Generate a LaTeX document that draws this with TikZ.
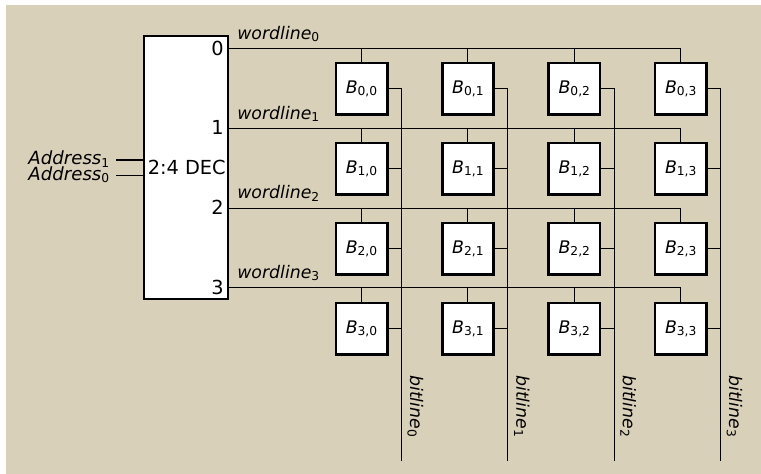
\documentclass[tikz,border=0pt]{standalone}
\usepackage{fontspec}
\setmainfont{DejaVu Sans}
\usetikzlibrary{calc}
\definecolor{bgc}{RGB}{217,208,186}
\newcommand\sbx[1]{\raisebox{-1.8pt}{\fontsize{9.2}{9.5}\selectfont #1}}
\begin{document}
\begin{tikzpicture}[x=0.75pt,y=-0.75pt,
  font=\fontsize{13}{15}\selectfont,
  wire/.style={line width=0.8pt, line cap=rect},
  cell/.style={draw, line width=2pt, fill=white, minimum width=38.5pt, minimum height=38.5pt, inner sep=0pt},
  decbox/.style={draw, line width=1.8pt, fill=white, minimum width=63pt, minimum height=197.25pt, inner sep=0pt},
  lbl/.style={inner sep=0pt},
  declbl/.style={inner sep=0pt, font=\fontsize{14.5}{16}\selectfont},
  adlbl/.style={inner sep=0pt, anchor=base east, font=\fontsize{13.6}{15}\selectfont}]
\useasboundingbox (0,0) rectangle (761,474);
\fill[bgc] (6,5) rectangle (761,474);
% decoder
\node[decbox] (dec) at (186,167.5) {};
\node[declbl, anchor=base west] (dectxt) at (147.5,175) {2:4 DEC};
% address inputs
\coordinate (ad1) at (117,160);
\coordinate (ad0) at (117,175.3);
\draw[wire] (ad1) -- (ad1 -| dec.west);
\draw[wire] (ad0) -- (ad0 -| dec.west);
\node[adlbl] (a1) at (109.5,165) {\textit{Address}\sbx{1}};
\node[adlbl] (a0) at (109.5,180.5) {\textit{Address}\sbx{0}};
% cells
\foreach \i in {0,...,3} {
  \foreach \j in {0,...,3} {
    \node[cell] (b\i\j) at ({361.5+106.4*\j},{88.7+80*\i}) {\textit{B}\sbx{\i,\j}};
  }
}
% wordlines
\foreach \i in {0,...,3} {
  \coordinate (w\i) at (229,{48.7+79.7*\i});
  \draw[wire] (w\i) -- (b\i3.north |- w\i);
  \foreach \j in {0,...,3} { \draw[wire] (b\i\j.north) -- (b\i\j.north |- w\i); }
  \node[declbl, anchor=east] (n\i) at ($(w\i)+(-5,-0.5)$) {\i};
  \node[lbl, anchor=base west] (wl\i) at ($(w\i)+(8,-9.3)$) {\textit{wordline}\sbx{\i}};
}
% bitlines
\foreach \j in {0,...,3} {
  \coordinate (t\j) at ($(b0\j.center)+(40,0)$);
  \coordinate (e\j) at ($(t\j)+(0,371.3)$);
  \draw[wire] (t\j) -- (e\j);
  \foreach \i in {0,...,3} { \draw[wire] (b\i\j.east) -- (b\i\j.east -| t\j); }
  \node[lbl, rotate=-90, anchor=base west] (bl\j) at ($(t\j)+(8.5,286.3)$) {\textit{bitline}\sbx{\j}};
}
\end{tikzpicture}
\end{document}
